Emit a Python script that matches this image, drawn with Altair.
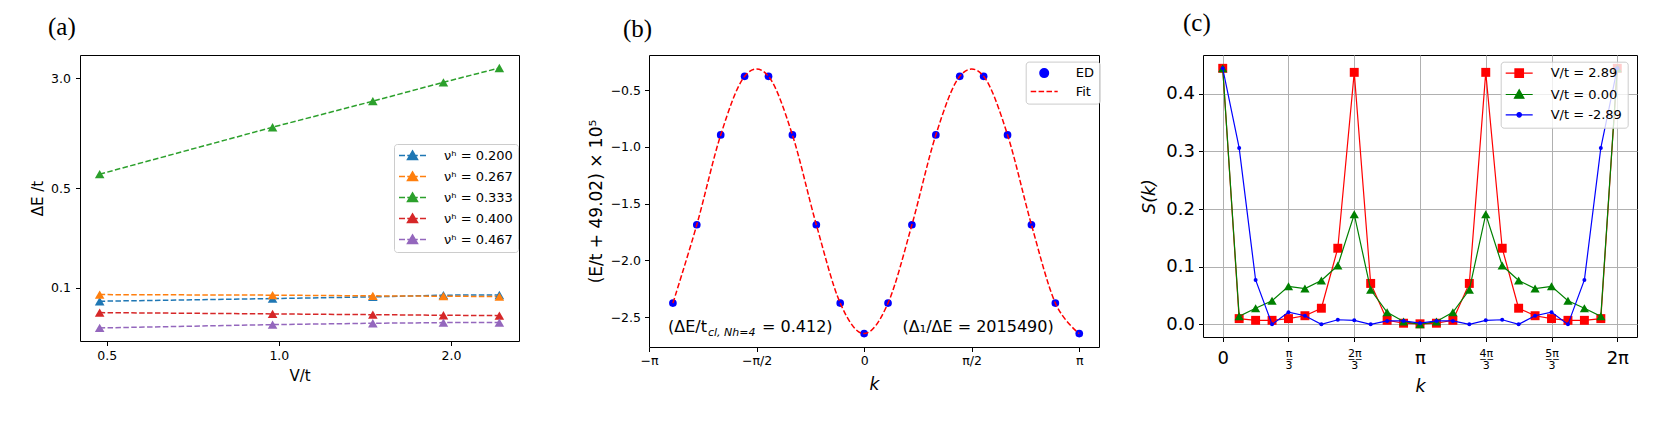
import math
import altair as alt
import pandas as pd

PI = math.pi
SANS = "DejaVu Sans"
SERIF = "Liberation Serif"

# ---------------- panel (a) data ----------------
a_vt = [0.486, 0.975, 1.46, 1.94, 2.43]
a_series = ["νʰ = 0.200", "νʰ = 0.267", "νʰ = 0.333", "νʰ = 0.400", "νʰ = 0.467"]
a_colors = ["#1f77b4", "#ff7f0e", "#2ca02c", "#d62728", "#9467bd"]
a_gap_0200 = [0.0801, 0.0836, 0.0860, 0.0884, 0.0886]
a_gap_0267 = [0.0892, 0.0884, 0.0874, 0.0869, 0.0864]
a_gap_0333 = [0.63, 1.35, 2.06, 2.80, 3.53]
a_gap_0400 = [0.0666, 0.0652, 0.0644, 0.0638, 0.0634]
a_gap_0467 = [0.0519, 0.0548, 0.0560, 0.0566, 0.0566]
a_gaps = [a_gap_0200, a_gap_0267, a_gap_0333, a_gap_0400, a_gap_0467]

# ---------------- panel (b) data ----------------
b_k_index = [-8, -7, -6, -5, -4, -3, -2, -1, 0, 1, 2, 3, 4, 5, 6, 7, 8, 9]  # k = n*pi/9
b_energy = [-2.377, -1.686, -0.894, -0.377, -0.377, -0.894, -1.686, -2.377, -2.646,
            -2.377, -1.686, -0.894, -0.377, -0.377, -0.894, -1.686, -2.377, -2.646]
b_series = ["ED", "Fit"]
b_colors = ["#0000ff", "#ff0000"]
b_notes = ["(ΔE/t", "cl, Nh=4", "= 0.412)", "(Δ₁/ΔE = 2015490)"]

# ---------------- panel (c) data ----------------
c_k_index = list(range(25))  # k = n*pi/12
c_s_pos = [0.444, 0.010, 0.007, 0.007, 0.010, 0.015, 0.028, 0.132, 0.437, 0.071, 0.007, 0.002, 0.001,
           0.002, 0.007, 0.071, 0.437, 0.132, 0.028, 0.015, 0.010, 0.007, 0.007, 0.010, 0.444]
c_s_zero = [0.444, 0.014, 0.028, 0.041, 0.066, 0.062, 0.076, 0.102, 0.191, 0.060, 0.021, 0.005, 0.000,
            0.005, 0.021, 0.060, 0.191, 0.102, 0.076, 0.062, 0.066, 0.041, 0.028, 0.014, 0.444]
c_s_neg = [0.444, 0.306, 0.077, 0.000, 0.021, 0.015, 0.000, 0.008, 0.007, 0.000, 0.006, 0.006, 0.002,
           0.006, 0.006, 0.000, 0.007, 0.008, 0.000, 0.015, 0.021, 0.000, 0.077, 0.306, 0.444]
c_series = ["V/t = 2.89", "V/t = 0.00", "V/t = -2.89"]
c_colors = ["#ff0000", "#008000", "#0000ff"]

# ---------------- helpers ----------------
def frame_legend(x, y, row_pad, stroke_w, symbol_type=None, label_expr=None):
    kw = dict(title=None, orient="none", legendX=x, legendY=y, symbolSize=100,
              symbolStrokeWidth=stroke_w, symbolOffset=7, labelOffset=25,
              labelFont=SANS, labelFontSize=13, labelColor="black", padding=5,
              rowPadding=row_pad, strokeColor="#cccccc", fillColor="rgba(255,255,255,0.8)",
              cornerRadius=3, symbolOpacity=1)
    if symbol_type:
        kw["symbolType"] = symbol_type
    if label_expr:
        kw["labelExpr"] = label_expr
    return alt.Legend(**kw)


def panel_title(text, dx, offset):
    return alt.TitleParams(text=text, anchor="start", frame="group", dx=dx, offset=offset,
                           font=SERIF, fontSize=25, fontWeight="normal", color="black")

# ---------------- panel (a) ----------------
rows_a = []
for s, col, gs in zip(a_series, a_colors, a_gaps):
    for v, g in zip(a_vt, gs):
        rows_a.append({"v": v, "gap": g, "series": s, "hex": col})
df_a = pd.DataFrame(rows_a)

xa = alt.X("v:Q", scale=alt.Scale(type="log", domain=[0.449, 2.63], nice=False),
           axis=alt.Axis(values=[0.5, 1.0, 2.0], format=".1f", title="V/t", labelFontSize=12.5,
                         titleFontSize=15, tickSize=4.5, labelPadding=4, titlePadding=6,
                         labelFlush=False, labelOverlap=False))
ya = alt.Y("gap:Q", scale=alt.Scale(type="log", domain=[0.042, 4.36], nice=False),
           axis=alt.Axis(values=[0.1, 0.5, 3.0], format=".1f", title="ΔE /t", labelFontSize=12.5,
                         titleFontSize=15, tickSize=4.5, labelPadding=5, titlePadding=5,
                         labelOverlap=False))
base_a = alt.Chart(df_a)
lines_a = base_a.mark_line(strokeWidth=1.5, strokeDash=[5.5, 2.4]).encode(
    x=xa, y=ya, color=alt.Color("hex:N", scale=None), detail="series:N")
pts_a = base_a.mark_point(shape="triangle-up", filled=True, size=92, opacity=1).encode(
    x=xa, y=ya, color=alt.Color("hex:N", scale=None))
SYM_A = "M-2.7,0H-1.5M-1.05,0H1.05M1.5,0H2.7M0,-0.9L1.0,0.8L-1.0,0.8Z"
leg_a = frame_legend(314, 89, 6, 1.5, SYM_A)
legend_a = base_a.transform_filter("false").mark_point(filled=True, opacity=1).encode(
    fill=alt.Fill("series:N", scale=alt.Scale(domain=a_series, range=a_colors), legend=leg_a),
    stroke=alt.Stroke("series:N", scale=alt.Scale(domain=a_series, range=a_colors), legend=leg_a))
panel_a = alt.layer(lines_a, pts_a, legend_a).properties(
    width=439, height=286, title=panel_title("(a)", -32, 15))

# ---------------- panel (b) ----------------
df_b = pd.DataFrame({"k": [n * PI / 9 for n in b_k_index], "E": b_energy, "series": "ED"})
B_LABELS = ("datum.value < -2 ? '−π' : (datum.value < -1 ? '−π/2' : "
            "(datum.value < 1 ? '0' : (datum.value < 2 ? 'π/2' : 'π')))")
xb = alt.X("k:Q", scale=alt.Scale(domain=[-3.1416, 3.43], nice=False, zero=False),
           axis=alt.Axis(values=[-PI, -PI / 2, 0, PI / 2, PI], labelExpr=B_LABELS, title="k",
                         titleFontStyle="italic", titleFontSize=17, labelFontSize=12.5,
                         tickSize=4.5, labelPadding=3, titlePadding=9, labelFlush=False,
                         labelOverlap=False))
yb = alt.Y("E:Q", scale=alt.Scale(domain=[-2.764, -0.189], nice=False, zero=False),
           axis=alt.Axis(values=[-2.5, -2.0, -1.5, -1.0, -0.5], format=".1f",
                         title="(E/t + 49.02) × 10⁵", titleFontSize=17, labelFontSize=12.5,
                         tickSize=4.5, labelPadding=4, titlePadding=5))
base_b = alt.Chart(df_b)
pts_b = base_b.mark_circle(color=b_colors[0], size=59, opacity=1).encode(x=xb, y=yb)
fit_b = base_b.mark_line(color=b_colors[1], strokeWidth=1.5, strokeDash=[5.5, 2.4],
                         interpolate="cardinal", tension=0).encode(x=xb, y=yb)


def note(text, kx, ey, size, dx=0, dy=0, style="normal"):
    return alt.Chart(pd.DataFrame({"t": [text]})).mark_text(
        align="left", baseline="alphabetic", font=SANS, fontSize=size, color="black",
        fontStyle=style, dx=dx, dy=dy).encode(x=alt.datum(kx), y=alt.datum(ey), text="t:N")


note1 = note(b_notes[0], -2.864, -2.628, 16)
note2 = note(b_notes[1], -2.864, -2.628, 11, dx=40, dy=4, style="italic")
note3 = note(b_notes[2], -2.864, -2.628, 16, dx=94)
note4 = note(b_notes[3], 0.561, -2.628, 16)

CIRC = "M-0.85,0A0.85,0.85,0,1,1,0.85,0A0.85,0.85,0,1,1,-0.85,0Z"
DASH = "M-2.7,0H-1.6M-1.12,0H-0.02M0.46,0H1.56M2.04,0H2.7"
leg_b = frame_legend(376.7, 6.6, 4.5, 1.5)
legend_b = base_b.transform_filter("false").mark_point(filled=True, opacity=1).encode(
    fill=alt.Fill("series:N", scale=alt.Scale(domain=b_series, range=b_colors), legend=leg_b),
    stroke=alt.Stroke("series:N", scale=alt.Scale(domain=b_series, range=b_colors), legend=leg_b),
    shape=alt.Shape("series:N", scale=alt.Scale(domain=b_series, range=[CIRC, DASH]), legend=leg_b))
panel_b = alt.layer(pts_b, fit_b, note1, note2, note3, note4, legend_b).properties(
    width=450, height=292, title=panel_title("(b)", -26, 13))

# ---------------- panel (c) ----------------
rows_c = []
for s, vals in zip(c_series, [c_s_pos, c_s_zero, c_s_neg]):
    for n, v in zip(c_k_index, vals):
        rows_c.append({"k": n * PI / 12, "S": v, "series": s})
df_c = pd.DataFrame(rows_c)

C_LABELS = ("[['0'], ['π\u0332', '3'], ['2\u0332π\u0332', '3'], ['π'], ['4\u0332π\u0332', '3'], "
            "['5\u0332π\u0332', '3'], ['2π']][round(datum.value * 3 / PI)]")
BIG = "round(datum.value * 3 / PI) % 3 == 0"
xc = alt.X("k:Q", scale=alt.Scale(domain=[-0.1 * PI, 2.1 * PI], nice=False, zero=False),
           axis=alt.Axis(values=[i * PI / 3 for i in range(7)], labelExpr=C_LABELS,
                         labelFontSize={"condition": {"test": BIG, "value": 18}, "value": 11},
                         labelPadding={"condition": {"test": BIG, "value": 8}, "value": 6},
                         labelLineHeight=11.5, title="k", titleFontStyle="italic",
                         titleFontSize=17.5, titlePadding=7, tickSize=4.5, labelFlush=False,
                         labelOverlap=False, grid=True, gridColor="#b0b0b0", gridWidth=1))
yc = alt.Y("S:Q", scale=alt.Scale(domain=[-0.0219, 0.4671], nice=False, zero=False),
           axis=alt.Axis(values=[0.0, 0.1, 0.2, 0.3, 0.4], format=".1f", title="S(k)",
                         titleFontStyle="italic", titleFontSize=17.5, labelFontSize=18,
                         tickSize=4.5, labelPadding=4, titlePadding=7, grid=True,
                         gridColor="#b0b0b0", gridWidth=1))
base_c = alt.Chart(df_c)
layers_c = []
marks_c = [("square", 80), ("triangle-up", 85), ("circle", 16)]
for s, col, (shp, sz) in zip(c_series, c_colors, marks_c):
    sub = base_c.transform_filter(alt.datum.series == s)
    layers_c.append(sub.mark_line(color=col, strokeWidth=1.2).encode(x=xc, y=yc))
    layers_c.append(sub.mark_point(shape=shp, size=sz, filled=True, opacity=1, color=col)
                    .encode(x=xc, y=yc))

SQ = "M-2.7,0H2.7M-0.85,-0.85H0.85V0.85H-0.85Z"
TRI = "M-2.7,0H2.7M0,-0.95L0.95,0.75L-0.95,0.75Z"
DOT = "M-2.7,0H2.7M-0.45,0A0.45,0.45,0,1,1,0.45,0A0.45,0.45,0,1,1,-0.45,0Z"
leg_c = frame_legend(297.7, 6.7, 6.3, 1.2, label_expr="datum.label + '\u2002\u2002'")
legend_c = base_c.transform_filter("false").mark_point(filled=True, opacity=1).encode(
    fill=alt.Fill("series:N", scale=alt.Scale(domain=c_series, range=c_colors), legend=leg_c),
    stroke=alt.Stroke("series:N", scale=alt.Scale(domain=c_series, range=c_colors), legend=leg_c),
    shape=alt.Shape("series:N", scale=alt.Scale(domain=c_series, range=[SQ, TRI, DOT]), legend=leg_c))
panel_c = alt.layer(*layers_c, legend_c).properties(
    width=434, height=282, title=panel_title("(c)", -20, 19))

INDEP = dict(fill="independent", stroke="independent", shape="independent")
inner = alt.hconcat(panel_a, panel_b, spacing=66).resolve_scale(**INDEP)
chart = alt.hconcat(inner, panel_c, spacing=39).resolve_scale(**INDEP).properties(
    padding={"left": 22, "top": 2, "right": 5, "bottom": 5}
).configure_view(stroke="black", strokeWidth=1).configure_axis(
    labelFont=SANS, titleFont=SANS, labelColor="black", titleColor="black",
    titleFontWeight="normal", tickColor="black", tickWidth=1, domain=False, grid=False)

chart.save("out.html", embed_options={"renderer": "svg", "actions": False})
